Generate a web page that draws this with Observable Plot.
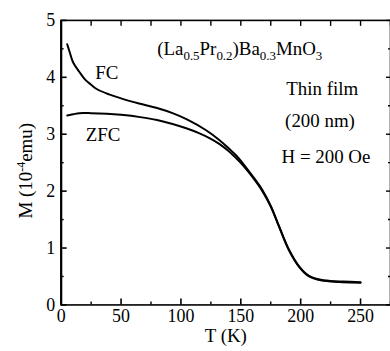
<!DOCTYPE html>
<html><head><meta charset="utf-8">
<script src="https://cdn.jsdelivr.net/npm/d3@7"></script>
<script src="https://cdn.jsdelivr.net/npm/@observablehq/plot@0.6"></script>
<style>
body{margin:0;background:#fff}
#wrap{width:390px;height:351px;overflow:hidden;position:relative}
</style>
</head><body><div id="wrap"></div>
<script>
// Field-cooled curve
const T_FC = [5, 7, 10, 15, 20, 25, 30, 40, 50, 65, 80, 93, 105, 121, 132, 140, 146, 152, 160, 168, 175, 182, 190, 199, 207, 215, 225, 235, 250];
const M_FC = [4.58, 4.45, 4.26, 4.10, 3.96, 3.87, 3.79, 3.70, 3.63, 3.54, 3.46, 3.37, 3.26, 3.07, 2.90, 2.75, 2.63, 2.48, 2.26, 2.02, 1.74, 1.38, 0.98, 0.67, 0.51, 0.45, 0.42, 0.41, 0.40];
// Zero-field-cooled curve
const T_ZFC = [5, 10, 15, 25, 38, 50, 66, 80, 93, 105, 115, 125, 132, 140, 146, 152, 160, 168, 175, 182, 190, 199, 207, 215, 225, 235, 250];
const M_ZFC = [3.33, 3.35, 3.37, 3.37, 3.36, 3.34, 3.30, 3.25, 3.18, 3.10, 3.02, 2.92, 2.83, 2.70, 2.58, 2.45, 2.24, 2.00, 1.73, 1.37, 0.97, 0.66, 0.50, 0.44, 0.41, 0.40, 0.39];
const xTicks = [0, 50, 100, 150, 200, 250];
const xMinor = [25, 75, 125, 175, 225, 275];
const xTop = [25, 50, 75, 100, 125, 150, 175, 200, 225, 250, 275];
const yTicks = [0, 1, 2, 3, 4, 5];
const yMinor = [0.5, 1.5, 2.5, 3.5, 4.5];

const fc = T_FC.map((t, i) => ({T: t, M: M_FC[i]}));
const zfc = T_ZFC.map((t, i) => ({T: t, M: M_ZFC[i]}));

const font = "Liberation Serif, Times New Roman, serif";
const fmt = d3.format("d");

const plot = Plot.plot({
  width: 392, height: 351,
  marginLeft: 61, marginRight: 0, marginTop: 20, marginBottom: 45,
  x: {domain: [0, 275]},
  y: {domain: [0, 5]},
  style: {fontFamily: font, fontSize: "18px", color: "black", background: "white"},
  marks: [
    Plot.frame({strokeWidth: 1.6}),
    Plot.axisX({ticks: xTicks, tickFormat: fmt, tickSize: -6, tickPadding: 10, strokeWidth: 1.6, label: null, fontSize: 18}),
    Plot.axisX({ticks: xMinor, tickSize: -3, text: null, label: null, strokeWidth: 1.4}),
    Plot.axisX({anchor: "top", ticks: xTop, tickSize: -5, text: null, label: null, strokeWidth: 1.4}),
    Plot.axisY({ticks: yTicks, tickFormat: fmt, tickSize: -6, tickPadding: 12, strokeWidth: 1.6, label: null, fontSize: 18}),
    Plot.axisY({ticks: yMinor, tickSize: -3, text: null, label: null, strokeWidth: 1.4}),
    Plot.axisY({anchor: "right", ticks: yTicks, tickSize: -5, text: null, label: null, strokeWidth: 1.4}),
    Plot.axisY({anchor: "right", ticks: yMinor, tickSize: -3, text: null, label: null, strokeWidth: 1.4}),
    Plot.ruleX([0], {strokeWidth: 2.2}),
    Plot.line(fc, {x: "T", y: "M", stroke: "black", strokeWidth: 2, curve: "catmull-rom"}),
    Plot.line(zfc, {x: "T", y: "M", stroke: "black", strokeWidth: 2, curve: "catmull-rom"}),
    Plot.text(["FC"], {x: 38, y: 4.08, text: d => d, fontSize: 19, lineAnchor: "middle"}),
    Plot.text(["ZFC"], {x: 35, y: 2.98, text: d => d, fontSize: 19, lineAnchor: "middle"}),
    Plot.text(["Thin film"], {x: 188, y: 3.80, text: d => d, fontSize: 19, textAnchor: "start", lineAnchor: "middle"}),
    Plot.text(["(200 nm)"], {x: 187, y: 3.24, text: d => d, fontSize: 19, textAnchor: "start", lineAnchor: "middle"}),
    Plot.text(["H = 200 Oe"], {x: 184, y: 2.60, text: d => d, fontSize: 19, textAnchor: "start", lineAnchor: "middle"}),
    Plot.text(["T (K)"], {frameAnchor: "bottom", text: d => d, dy: 31, fontSize: 19, lineAnchor: "middle"})
  ]
});

document.getElementById("wrap").appendChild(plot);

const sx = plot.scale("x"), sy = plot.scale("y");
const svg = d3.select(plot);

// Formula with subscripts
const f = svg.append("text")
  .attr("x", sx.apply(80.6)).attr("y", sy.apply(4.50))
  .attr("dy", "0.35em").attr("text-anchor", "start")
  .attr("font-family", font).attr("font-size", 19).attr("fill", "black");
const parts = [["(La", false], ["0.5", true], ["Pr", false], ["0.2", true], [")Ba", false], ["0.3", true], ["MnO", false], ["3", true]];
for (const [s, sub] of parts) {
  f.append("tspan").text(s)
    .attr("font-size", sub ? 13 : 19)
    .attr("baseline-shift", sub ? "-35%" : null);
}

// Y axis label with superscript
const yl = svg.append("text")
  .attr("transform", `translate(26,${sy.apply(2.35)}) rotate(-90)`)
  .attr("text-anchor", "middle").attr("dy", "0.35em")
  .attr("font-family", font).attr("font-size", 19).attr("fill", "black");
yl.append("tspan").text("M (10");
yl.append("tspan").text("-4").attr("font-size", 12).attr("baseline-shift", "55%");
yl.append("tspan").text("emu)");
</script>
</body></html>
